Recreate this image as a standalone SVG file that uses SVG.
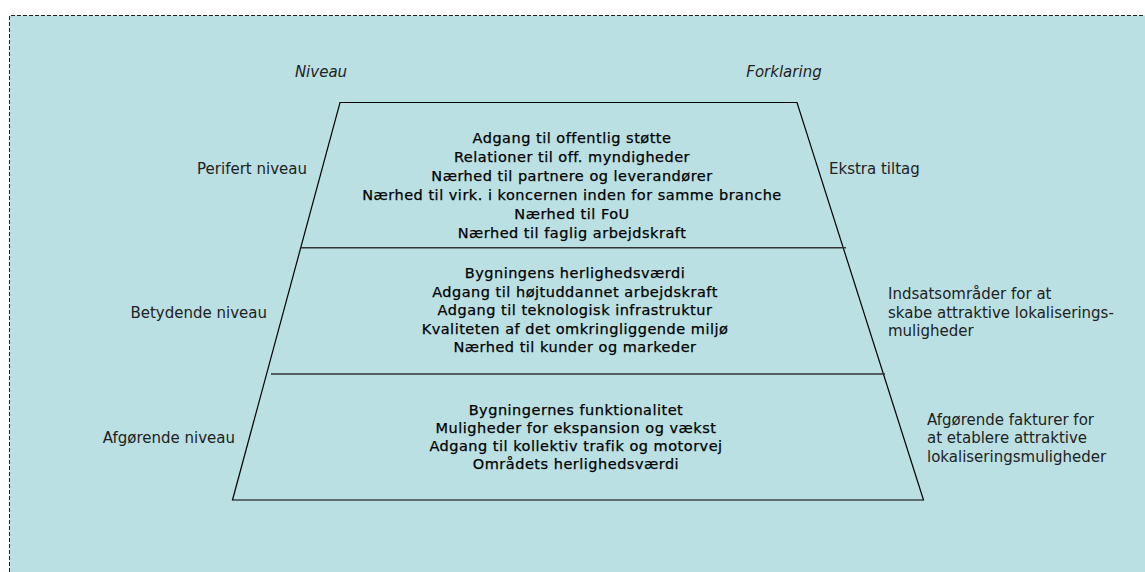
<svg xmlns="http://www.w3.org/2000/svg" width="1145" height="572" viewBox="0 0 1145 572">
<style>
.lbl{font-family:"DejaVu Sans","Liberation Sans",sans-serif;font-size:15px;fill:#222}
.it{font-style:italic}
.in{font-family:"DejaVu Sans","Liberation Sans",sans-serif;font-size:14.5px;letter-spacing:0.5px;fill:#000;stroke:#000;stroke-width:0.25;text-anchor:middle}
.edge{fill:none;stroke:#000;stroke-width:1.2}
.div{stroke:#333;stroke-width:1.6}
</style>
<rect x="9.5" y="15.5" width="1140" height="560" fill="#BAE0E3"/>
<path d="M9.5,572 V15.5 H1145" fill="none" stroke="#222" stroke-width="1" stroke-dasharray="4,2"/>
<g id="headers">
<text class="lbl it" x="321" y="77" text-anchor="middle">Niveau</text>
<text class="lbl it" x="784" y="77" text-anchor="middle">Forklaring</text>
</g>
<g id="pyramid">
<polygon class="edge" points="340,102.5 797,102.5 923.5,500 232.5,500"/>
</g>
<g id="connectors">
<line class="div" x1="301" y1="247.7" x2="846" y2="247.7"/>
<line class="div" x1="271" y1="374" x2="885" y2="374"/>
</g>
<g id="tier-perifert">
<text class="lbl" x="307" y="173.5" text-anchor="end">Perifert niveau</text>
<text class="in" x="572" y="142.5">Adgang til offentlig støtte</text>
<text class="in" x="572" y="161.5">Relationer til off. myndigheder</text>
<text class="in" x="572" y="180.5">Nærhed til partnere og leverandører</text>
<text class="in" x="572" y="199.5">Nærhed til virk. i koncernen inden for samme branche</text>
<text class="in" x="572" y="218.5">Nærhed til FoU</text>
<text class="in" x="572" y="237.5">Nærhed til faglig arbejdskraft</text>
<text class="lbl" x="829" y="173.5">Ekstra tiltag</text>
</g>
<g id="tier-betydende">
<text class="lbl" x="267" y="318" text-anchor="end">Betydende niveau</text>
<text class="in" x="575" y="278">Bygningens herlighedsværdi</text>
<text class="in" x="575" y="296.5">Adgang til højtuddannet arbejdskraft</text>
<text class="in" x="575" y="315">Adgang til teknologisk infrastruktur</text>
<text class="in" x="575" y="333.5">Kvaliteten af det omkringliggende miljø</text>
<text class="in" x="575" y="352">Nærhed til kunder og markeder</text>
<text class="lbl" x="888" y="299">Indsatsområder for at</text>
<text class="lbl" x="888" y="317.5">skabe attraktive lokaliserings-</text>
<text class="lbl" x="888" y="336">muligheder</text>
</g>
<g id="tier-afgoerende">
<text class="lbl" x="235" y="442.5" text-anchor="end">Afgørende niveau</text>
<text class="in" x="576" y="415">Bygningernes funktionalitet</text>
<text class="in" x="576" y="433">Muligheder for ekspansion og vækst</text>
<text class="in" x="576" y="451">Adgang til kollektiv trafik og motorvej</text>
<text class="in" x="576" y="469">Områdets herlighedsværdi</text>
<text class="lbl" x="927" y="425">Afgørende fakturer for</text>
<text class="lbl" x="927" y="443">at etablere attraktive</text>
<text class="lbl" x="927" y="461.5">lokaliseringsmuligheder</text>
</g>
</svg>
